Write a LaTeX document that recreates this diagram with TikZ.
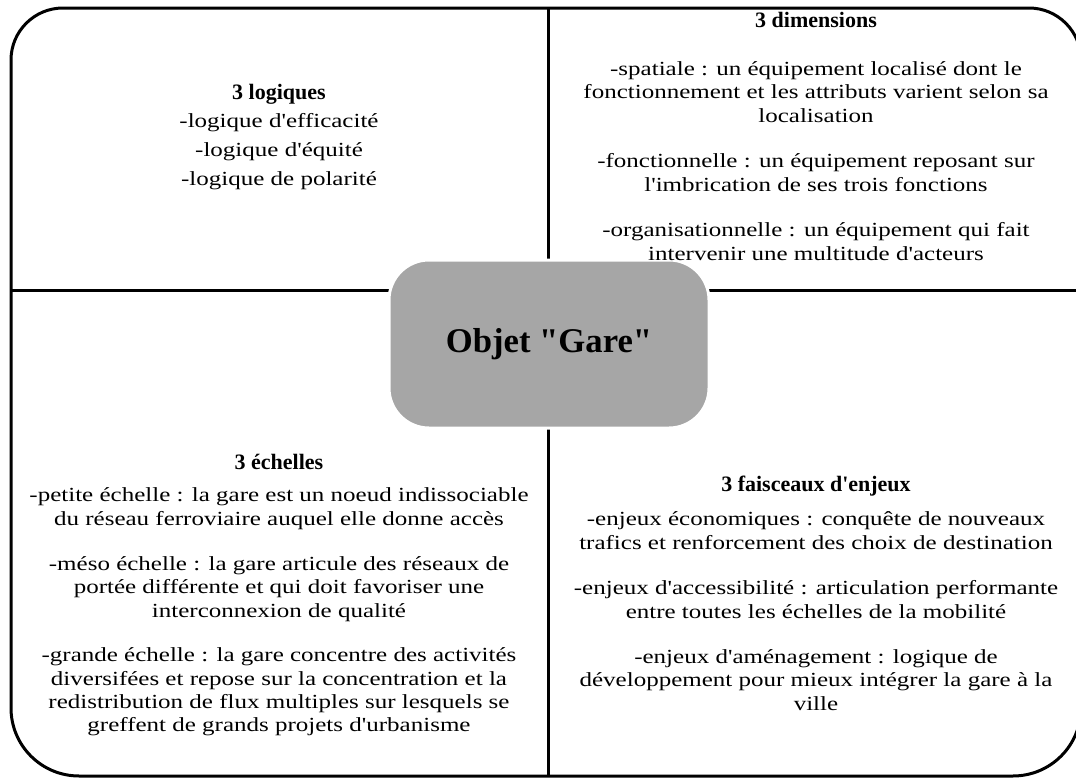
\documentclass[tikz,border=0pt]{standalone}
\usepackage{fontspec}
\setmainfont{Liberation Serif}
\newfontfamily\headfont{Liberation Serif}
\newfontfamily\bodyfont{Liberation Serif}[FakeStretch=1.25]
\definecolor{boxgray}{RGB}{166,166,166}
\begin{document}
\begin{tikzpicture}[x=0.75pt,y=-0.75pt,
  frame/.style={line width=2.25pt, black},
  head/.style={font=\headfont\fontsize{16.5}{19}\selectfont\bfseries, inner sep=0pt, align=center},
  body/.style={font=\bodyfont\fontsize{15}{17.6}\selectfont, inner sep=0pt, align=center},
  gbox/.style={fill=boxgray, draw=white, line width=2.25pt, rounded corners=30pt,
    minimum width=240pt, minimum height=126pt, font=\headfont\fontsize{26}{30}\selectfont\bfseries}]
\useasboundingbox (0,0) rectangle (1076,778);
\clip (0,0) rectangle (1076,778);
% outer frame
\draw[frame] (548,8) -- (63,8) arc[start angle=270,end angle=180,radius=52]
  -- (11,708) arc[start angle=180,end angle=90,radius=68]
  -- (1013,776) arc[start angle=90,end angle=0,radius=68]
  -- (1081,60) arc[start angle=0,end angle=-90,radius=52] -- cycle;
% cross
\coordinate (vtop) at (548,8);
\coordinate (vbot) at (548,776);
\coordinate (hl) at (11,290);
\coordinate (hr) at (1081,290);
\draw[frame] (vtop) -- (vbot);
\draw[frame] (hl) -- (hr);
% centre box
\node[gbox] (gare) at (549,344) {Objet \textquotedbl Gare\textquotedbl};
% top left
\node[head] (tlh) at (279,94) {3 logiques};
\node[body] (tl1) at (279,123) {-logique d'efficacité};
\node[body] (tl2) at (279,152) {-logique d'équité};
\node[body] (tl3) at (279,181) {-logique de polarité};
% top right
\node[head] (trh) at (816,20) {3 dimensions};
\node[body] (tr1) at (816,92) {-spatiale : un équipement localisé dont le\\fonctionnement et les attributs varient selon sa\\localisation};
\node[body] (tr2) at (816,172.5) {-fonctionnelle : un équipement reposant sur\\l'imbrication de ses trois fonctions};
\node[body] (tr3) at (816,241.5) {-organisationnelle : un équipement qui fait\\intervenir une multitude d'acteurs};
% bottom left
\node[head] (blh) at (279,462) {3 échelles};
\node[body] (bl1) at (279,508.5) {-petite échelle : la gare est un noeud indissociable\\du réseau ferroviaire auquel elle donne accès};
\node[body] (bl2) at (279,589) {-méso échelle : la gare articule des réseaux de\\portée différente et qui doit favoriser une\\interconnexion de qualité};
\node[body] (bl3) at (279,692) {-grande échelle : la gare concentre des activités\\diversifées et repose sur la concentration et la\\redistribution de flux multiples sur lesquels se\\greffent de grands projets d'urbanisme};
% bottom right
\node[head] (brh) at (816,486) {3 faisceaux d'enjeux};
\node[body] (br1) at (816,530.5) {-enjeux économiques : conquête de nouveaux\\trafics et renforcement des choix de destination};
\node[body] (br2) at (816,599.5) {-enjeux d'accessibilité : articulation performante\\entre toutes les échelles de la mobilité};
\node[body] (br3) at (816,680) {-enjeux d'aménagement : logique de\\développement pour mieux intégrer la gare à la\\ville};
\end{tikzpicture}
\end{document}
